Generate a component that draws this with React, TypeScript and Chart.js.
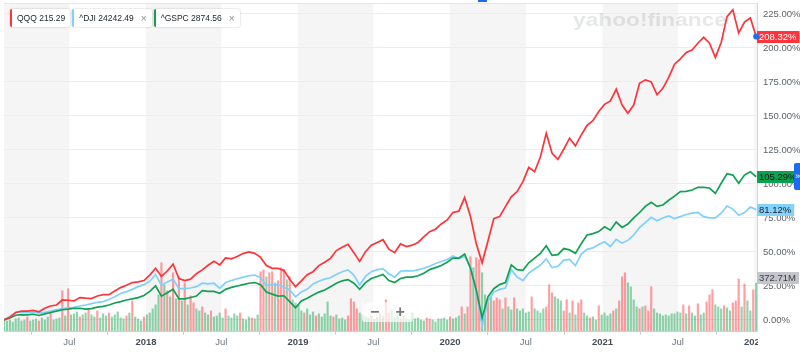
import React, { useEffect, useRef } from "react";
import { Chart, registerables } from "chart.js";

Chart.register(...registerables);

const FONT = '"Liberation Sans", Arial, sans-serif';
const RED = "#ff333a";
const BLUE = "#7fd0fb";
const GREEN = "#12a154";
const VOL_RED = "rgba(255, 51, 58, 0.48)";
const VOL_GREEN = "rgba(20, 165, 80, 0.48)";

// time base: first point on 2017-01-25, lines every 14 days, volume weekly
const START_UTC = Date.UTC(2017, 0, 25);
const DAY_MS = 86400000;
const LINE_STEP_DAYS = 14;
const VOLUME_STEP_DAYS = 7;
const X_END_DAYS = 1808;

const Y_TICKS = [0, 25, 50, 75, 100, 125, 150, 175, 200, 225];
const Y_MIN = -8.1;
const Y_MAX = 233;
const VOLUME_AXIS_MAX = 2547;

// % change since start, biweekly
const QQQ = [
  0, 2, 5.5, 6.5, 6.5, 7, 6, 8.6, 10.3, 11,
  14.7, 14.5, 14, 16.5, 16, 15.7, 17.6, 18.6, 18.6, 21.3,
  23.8, 25.5, 27.5, 28, 29, 33, 38, 32, 36, 41,
  30.5, 29, 30, 34, 36.8, 40.2, 43.1, 40.5, 45.6, 45,
  46.6, 48.8, 50, 49, 46, 40, 38, 38, 36.5, 30,
  24.5, 28.7, 33.3, 35.5, 40, 42.4, 45.3, 51, 53.4, 55.6,
  49.5, 43, 50.2, 54.9, 56.9, 59, 52, 49.5, 55.9, 54,
  55, 57, 61, 64.9, 66.7, 70.6, 73.5, 79, 80, 90,
  76, 56, 42, 58, 74.5, 76, 83.3, 90.5, 94.4, 101.7,
  112.2, 109, 120, 137.2, 122.5, 118.1, 125.5, 133.6, 128, 136,
  143, 146.5, 153.2, 158.5, 161, 169.6, 158, 152, 158, 174,
  176.5, 175, 165.5, 170.3, 178.4, 188, 192, 196.6, 198.5, 203.4,
  207.8, 203.4, 193, 204, 223, 228, 211, 219, 222, 208.32,
];

const DJI = [
  0, 2.5, 5.5, 6, 5.5, 5.8, 5, 5.6, 6.5, 7.5,
  8.3, 8.8, 9.3, 10.3, 11, 12, 13, 13.5, 15, 17,
  19.5, 20.8, 22.5, 24.5, 26, 28.5, 33.5, 25.5, 28, 30,
  23, 23, 23.5, 24.5, 27, 26.5, 27, 23.3, 27.5, 29,
  30.3, 31.5, 32.5, 33, 31, 25.5, 26, 26, 24, 22,
  17, 20.5, 22.5, 26.5, 28.5, 30, 31, 33.5, 35.5, 36.8,
  33, 25.7, 32, 35.5, 37, 37.5, 34, 31.5, 35.8, 36.3,
  36, 36.8, 38, 39.5, 41.5, 43, 44.5, 47, 45, 47,
  38.5, 21, -4.5, 14, 20.5, 22.5, 23.5, 37, 31.5, 29,
  34.5, 37.5, 40.4, 45, 38.5, 39.5, 44, 44.5, 40, 48.5,
  51.9, 53, 55.5, 57.5, 54, 59.3, 56.5, 58.5, 62.5, 68,
  71.5, 75.5, 73, 75, 76.5, 74.5, 76, 77.5, 78.5, 79,
  76, 75, 75, 78.5, 83.8, 81.5, 77, 79, 83, 81.12,
];

const GSPC = [
  0, 1.5, 3.5, 4, 3.7, 4.2, 3.3, 4.5, 5.5, 6.5,
  7.5, 8, 8.6, 8.6, 8, 8.4, 9.5, 10, 11, 12.5,
  13.5, 14.7, 15.5, 16.4, 18, 21, 25, 17.5, 20, 22.6,
  15.5, 15.5, 16.5, 17.6, 21.5, 21, 21, 19.6, 22.5, 24,
  25, 26, 27, 27.5, 26, 20.5, 19, 17.5, 17.8, 13.5,
  9, 14, 16, 18.4, 20.5, 22, 24.5, 27, 28.8, 29.7,
  27, 22.6, 27.5, 30.5, 32, 33.5, 29, 27.5, 30.5, 31.5,
  31.5, 32.5, 34.3, 37, 38.5, 40, 42.5, 45.5, 45.5, 48.5,
  38, 22, 1.5, 17, 23, 26, 27.5, 40.5, 37, 36.5,
  42, 45.5, 49, 54.5, 47.5, 48, 52.5, 51.5, 49, 56,
  62.5, 63.5, 65, 68.5, 66, 72, 68, 70.5, 75, 79,
  83.5, 86.5, 83.5, 84.5, 88, 91, 94.4, 94.5, 95.5, 97.5,
  97.5, 97, 93, 100.5, 107.5, 106.5, 100.5, 106.5, 109, 105.29,
];

// weekly volume, millions
const VOLUME_M = [
  94, 78, 86, 70, 94, 101, 78, 86, 109, 78,
  86, 94, 78, 101, 86, 109, 148, 86, 94, 101,
  312, 117, 328, 125, 133, 148, 109, 125, 140, 172,
  125, 109, 156, 101, 133, 117, 140, 109, 125, 148,
  101, 94, 117, 140, 234, 109, 94, 78, 109, 125,
  140, 172, 203, 281, 530, 359, 312, 265, 452, 250,
  421, 234, 374, 203, 273, 218, 172, 156, 187, 140,
  125, 156, 109, 117, 140, 101, 172, 117, 101, 133,
  117, 140, 94, 86, 109, 101, 94, 125, 460, 475,
  421, 452, 460, 374, 390, 491, 475, 398, 421, 242,
  218, 203, 156, 140, 172, 125, 148, 117, 133, 109,
  133, 226, 117, 109, 125, 94, 101, 86, 117, 250,
  226, 172, 140, 125, 109, 101, 117, 94, 109, 133,
  117, 242, 140, 164, 109, 133, 101, 117, 94, 86,
  140, 94, 101, 86, 78, 101, 94, 86, 70, 94,
  94, 101, 86, 109, 94, 101, 117, 187, 133, 187,
  577, 491, 569, 554, 452, 281, 226, 265, 234, 257,
  242, 172, 257, 187, 164, 257, 172, 156, 172, 140,
  148, 265, 172, 156, 140, 172, 187, 359, 296, 265,
  250, 234, 156, 242, 140, 234, 125, 218, 242, 140,
  117, 101, 109, 86, 195, 125, 140, 117, 133, 156,
  172, 234, 421, 452, 374, 343, 242, 187, 172, 187,
  195, 156, 343, 172, 140, 133, 117, 125, 117, 133,
  133, 148, 140, 203, 133, 195, 140, 117, 211, 125,
  140, 226, 281, 320, 203, 187, 172, 195, 179, 156,
  218, 234, 404, 187, 365, 234, 156, 320, 372.71,
];

// r = down week, g = up week
const VOLUME_DIR =
  "ggggggggrg" + "ggrgggrggg" + "rgrgggrggr" + "ggrgggrggg" + "ggrgrgggrg" +
  "ggggrgrgrg" + "rgrgrrggrg" + "grggggrggg" + "grgggrggrr" + "grrgrrrgrg" +
  "gggrgggrgg" + "gggrggggrr" + "rrggggrggr" + "grrgggrggg" + "gggggrrggg" +
  "gggrgggrgr" + "rgrrggrgrr" + "rgrggrgggg" + "grggggrrrg" + "ggrrgrgrrg" +
  "grggrggggr" + "grrrggggrg" + "rrrggggggg" + "gggrgrggrg" + "grrrgggrgg" +
  "rrrgrggrg";

const LEGEND = [
  { name: "QQQ", price: "215.29", color: RED, closable: false },
  { name: "^DJI", price: "24242.49", color: BLUE, closable: true },
  { name: "^GSPC", price: "2874.56", color: GREEN, closable: true },
];

const dayOf = (y: number, m: number) => (Date.UTC(y, m, 1) - START_UTC) / DAY_MS;

const X_TICK_DAYS: number[] = [];
for (let y = 2017; y <= 2022; y++) {
  for (const m of [0, 6]) {
    const d = dayOf(y, m);
    if (d >= 0 && d <= X_END_DAYS) X_TICK_DAYS.push(d);
  }
}

const tickLabel = (v: number) => {
  const dt = new Date(START_UTC + Math.round(v) * DAY_MS);
  return dt.getUTCMonth() === 0 ? String(dt.getUTCFullYear()) : "Jul";
};

const chartPlugin = {
  id: "yahooDecor",
  beforeDraw(chart: any) {
    const { ctx, chartArea: a, scales } = chart;
    const x = scales.x;
    ctx.save();
    ctx.fillStyle = "#f5f5f5";
    for (let y = 2017; y <= 2022; y++) {
      const s = Math.max(0, dayOf(y, 0));
      const e = Math.min(X_END_DAYS, dayOf(y, 6));
      if (e <= s) continue;
      const p1 = x.getPixelForValue(s);
      const p2 = x.getPixelForValue(e);
      ctx.fillRect(p1, a.top, p2 - p1, a.bottom - a.top);
    }
    ctx.restore();
  },
  beforeDatasetsDraw(chart: any) {
    const { ctx, chartArea: a } = chart;
    ctx.save();
    ctx.strokeStyle = "#e6e6e6";
    ctx.lineWidth = 1;
    ctx.beginPath();
    ctx.moveTo(a.left, a.top + 0.5);
    ctx.lineTo(a.right, a.top + 0.5);
    ctx.stroke();
    // watermark
    const text = "yahoo!finance";
    ctx.font = `bold 18px ${FONT}`;
    const w = ctx.measureText(text).width;
    ctx.translate(573, 26);
    ctx.scale(154 / w, 1);
    ctx.fillStyle = "rgba(60, 70, 80, 0.13)";
    ctx.textBaseline = "alphabetic";
    ctx.fillText(text, 0, 0);
    ctx.restore();
  },
  afterDraw(chart: any) {
    const { ctx, chartArea: a, scales, width, height } = chart;
    ctx.save();
    // clip x labels past plot
    ctx.fillStyle = "#ffffff";
    ctx.fillRect(a.right + 1, a.bottom + 1, width - a.right, height - a.bottom);

    const badge = (yPix: number, text: string, bg: string, fg: string) => {
      ctx.font = `9.5px ${FONT}`;
      const tw = ctx.measureText(text).width;
      ctx.fillStyle = bg;
      ctx.fillRect(a.right, Math.round(yPix) - 6, tw + 5, 12);
      ctx.fillStyle = fg;
      ctx.textBaseline = "middle";
      ctx.textAlign = "left";
      ctx.fillText(text, a.right + 2, Math.round(yPix) + 0.5);
    };
    const y = scales.y;
    const yv = scales.yv;
    const lastVol = VOLUME_M[VOLUME_M.length - 1];
    badge(yv.getPixelForValue(lastVol) - 5, `${lastVol.toFixed(2)}M`, "#c3c6ca", "#3a3f44");
    badge(y.getPixelForValue(DJI[DJI.length - 1]), `${DJI[DJI.length - 1].toFixed(2)}%`, "#84d2fb", "#14202a");
    badge(y.getPixelForValue(GSPC[GSPC.length - 1]), `${GSPC[GSPC.length - 1].toFixed(2)}%`, "#0aa150", "#0a1a10");
    badge(y.getPixelForValue(QQQ[QQQ.length - 1]), `${QQQ[QQQ.length - 1].toFixed(2)}%`, "#ff333a", "#ffffff");

    // end dot on QQQ
    const meta = chart.getDatasetMeta(0);
    const last = meta.data[meta.data.length - 1];
    ctx.fillStyle = "#1f6ff2";
    ctx.beginPath();
    ctx.arc(last.x, last.y, 3, 0, Math.PI * 2);
    ctx.fill();
    ctx.restore();
  },
};

function ChartCanvas() {
  const ref = useRef<HTMLCanvasElement | null>(null);
  useEffect(() => {
    if (!ref.current) return;
    const linePts = (arr: number[]) => arr.map((v, i) => ({ x: i * LINE_STEP_DAYS, y: v }));
    const volPts = VOLUME_M.map((v, j) => ({ x: j * VOLUME_STEP_DAYS, y: v }));
    const volColors = VOLUME_M.map((_, j) => (VOLUME_DIR[j] === "r" ? VOL_RED : VOL_GREEN));
    const lineBase = {
      type: "line" as const,
      borderWidth: 1.7,
      pointRadius: 0,
      tension: 0,
      fill: false,
      yAxisID: "y",
    };
    const chart = new Chart(ref.current, {
      type: "line",
      data: {
        datasets: [
          { ...lineBase, label: "QQQ", data: linePts(QQQ), borderColor: RED, order: 1 },
          { ...lineBase, label: "^GSPC", data: linePts(GSPC), borderColor: GREEN, order: 2 },
          { ...lineBase, label: "^DJI", data: linePts(DJI), borderColor: BLUE, order: 3 },
          {
            type: "bar",
            label: "Volume",
            data: volPts,
            backgroundColor: volColors,
            yAxisID: "yv",
            barThickness: 1.5,
            grouped: false,
            order: 4,
          } as any,
        ],
      },
      options: {
        animation: false,
        responsive: false,
        events: [],
        layout: { padding: { left: 4, top: 3, right: 0, bottom: 0 } },
        plugins: { legend: { display: false }, tooltip: { enabled: false }, title: { display: false } },
        scales: {
          x: {
            type: "linear",
            min: 0,
            max: X_END_DAYS,
            offset: false,
            afterBuildTicks: (scale: any) => {
              scale.ticks = X_TICK_DAYS.map((v) => ({ value: v }));
            },
            afterFit: (scale: any) => {
              scale.height = 22;
              scale.paddingLeft = 0;
              scale.paddingRight = 0;
            },
            grid: { drawOnChartArea: false, drawTicks: true, tickLength: 4, color: "#cfcfcf" },
            border: { display: true, color: "#cfcfcf" },
            ticks: {
              autoSkip: false,
              maxRotation: 0,
              padding: 2,
              callback: (v: any) => tickLabel(Number(v)),
              font: (ctx: any) => {
                const lbl = ctx.tick ? tickLabel(ctx.tick.value) : "";
                return { family: FONT, size: 9.5, weight: lbl === "Jul" ? "normal" : "bold" };
              },
              color: (ctx: any) => {
                const lbl = ctx.tick ? tickLabel(ctx.tick.value) : "";
                return lbl === "Jul" ? "#6e7780" : "#464e56";
              },
            },
          },
          y: {
            type: "linear",
            position: "right",
            min: Y_MIN,
            max: Y_MAX,
            afterBuildTicks: (scale: any) => {
              scale.ticks = Y_TICKS.map((v) => ({ value: v }));
            },
            afterFit: (scale: any) => {
              scale.width = 43;
              scale.paddingTop = 0;
              scale.paddingBottom = 0;
            },
            grid: { color: "#ededed", drawTicks: false },
            border: { display: true, color: "#d6d6d6" },
            ticks: {
              padding: 6,
              color: "#5b636a",
              font: { family: FONT, size: 9.5 },
              callback: (v: any) => `${Number(v).toFixed(2)}%`,
            },
          },
          yv: {
            type: "linear",
            display: false,
            min: 0,
            max: VOLUME_AXIS_MAX,
          },
        },
      },
      plugins: [chartPlugin as any],
    });
    return () => chart.destroy();
  }, []);
  return <canvas ref={ref} width={800} height={353} style={{ display: "block" }} />;
}

export default function App() {
  return (
    <div
      style={{
        position: "fixed",
        left: 0,
        top: 0,
        width: 800,
        height: 353,
        background: "#fff",
        overflow: "hidden",
        fontFamily: FONT,
      }}
    >
      <ChartCanvas />
      <div style={{ position: "absolute", left: 10, top: 9, display: "flex", gap: 2 }}>
        {LEGEND.map((item) => (
          <div
            key={item.name}
            style={{
              height: 18,
              boxSizing: "border-box",
              display: "flex",
              alignItems: "center",
              background: "#fff",
              borderLeft: `2px solid ${item.color}`,
              boxShadow: "0 0 2px rgba(0,0,0,0.28)",
              borderRadius: 2,
              paddingLeft: 5,
              paddingRight: 5,
              fontSize: 8.5,
              color: "#232a31",
              whiteSpace: "nowrap",
            }}
          >
            <span>
              {item.name} {item.price}
            </span>
            {item.closable && (
              <span style={{ marginLeft: 7, color: "#8a9096", fontSize: 10 }}>×</span>
            )}
          </div>
        ))}
      </div>
      <div
        style={{
          position: "absolute",
          left: 362,
          top: 302,
          width: 51,
          height: 20,
          background: "rgba(255,255,255,0.7)",
          borderRadius: 3,
          display: "flex",
          alignItems: "center",
          justifyContent: "space-around",
          color: "#777",
          fontSize: 16,
          fontWeight: "bold",
          lineHeight: "20px",
        }}
      >
        <span>−</span>
        <span>+</span>
      </div>
      <div
        style={{
          position: "absolute",
          left: 794,
          top: 163,
          width: 12,
          height: 27,
          background: "#1d6bf3",
          borderRadius: 2,
          color: "#fff",
          fontSize: 9,
          lineHeight: "27px",
          paddingLeft: 1,
        }}
      >
        »
      </div>
      <div style={{ position: "absolute", left: 478, top: 0, width: 9, height: 2, background: "#1d6bf3" }} />
    </div>
  );
}
